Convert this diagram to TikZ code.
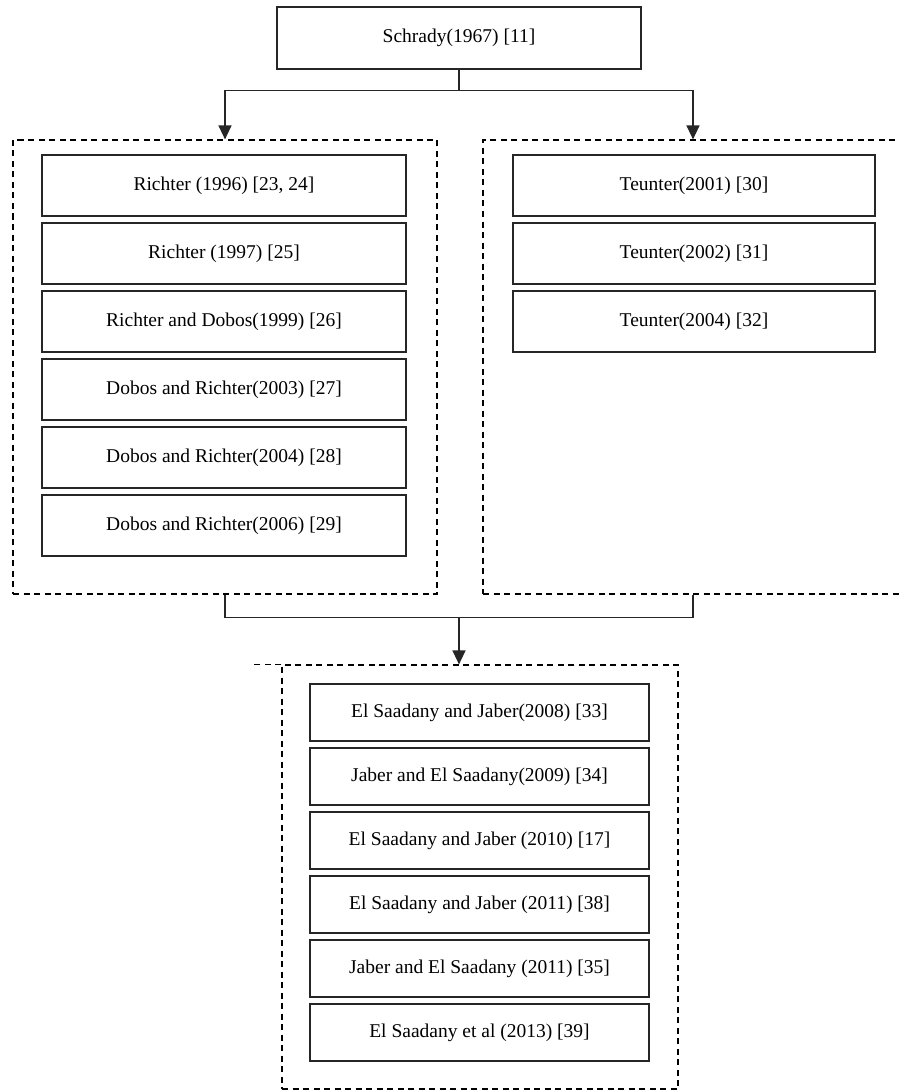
\documentclass[tikz,border=0pt]{standalone}
\usepackage{fontspec}
\setmainfont{Liberation Serif}
\usetikzlibrary{arrows.meta,positioning}
\tikzset{
  ref/.style={draw=black!85, line width=1.4pt, inner sep=0pt, font=\fontsize{19.5}{22}\selectfont},
  group/.style={draw, dash pattern=on 6pt off 4.5pt, line width=1.2pt, inner sep=0pt},
  link/.style={line width=1.4pt, draw=black!85},
  arr/.style={link, -{Triangle[width=13pt,length=14pt]}}
}

\begin{document}
\begin{tikzpicture}[x=1pt,y=-1pt]
      \useasboundingbox (0,0) rectangle (898,1091);

      \node [ref, minimum width=364pt, minimum height=62pt] (schrady) at (459,38) {Schrady(1967) [11]};

      % dashed groups
      \node [group, minimum width=424pt, minimum height=454pt] (left) at (225,367) {};
      \node [group, minimum width=420pt, minimum height=454pt] (right) at (693,367) {};
      \node [group, minimum width=396pt, minimum height=424pt] (bottom) at (480,877) {};
      \draw [group] (bottom.north west) -- ++(-30,0);

      \foreach \i / \label in
      {
        1/{Richter (1996) [23, 24]},
        2/{Richter (1997) [25]},
        3/{Richter and Dobos(1999) [26]},
        4/{Dobos and Richter(2003) [27]},
        5/{Dobos and Richter(2004) [28]},
        6/{Dobos and Richter(2006) [29]}
      }
      {
       \node [ref, minimum width=364pt, minimum height=61pt] (L\i) at (224,117.5+68*\i) {\label};
      }

      \foreach \i / \label in
      {
        1/{Teunter(2001) [30]},
        2/{Teunter(2002) [31]},
        3/{Teunter(2004) [32]}
      }
      {
       \node [ref, minimum width=362pt, minimum height=61pt] (R\i) at (694,117.5+68*\i) {\label};
      }

      \foreach \i / \label in
      {
        1/{El Saadany and Jaber(2008) [33]},
        2/{Jaber and El Saadany(2009) [34]},
        3/{El Saadany and Jaber (2010) [17]},
        4/{El Saadany and Jaber (2011) [38]},
        5/{Jaber and El Saadany (2011) [35]},
        6/{El Saadany et al (2013) [39]}
      }
      {
       \node [ref, minimum width=339pt, minimum height=57pt] (B\i) at (479.5,648.5+64*\i) {\label};
      }

      % connectors
      \draw [link] (schrady.south) -- ++(0,21) coordinate (split);
      \draw [arr] (split) -| (left.north);
      \draw [arr] (split) -| (right.north);
      \draw [link] (left.south) -- ++(0,23) coordinate (join) -| (right.south);
      \coordinate (merge) at (schrady |- join);
      \draw [arr] (merge) -- (merge |- bottom.north);

\end{tikzpicture}
\end{document}
